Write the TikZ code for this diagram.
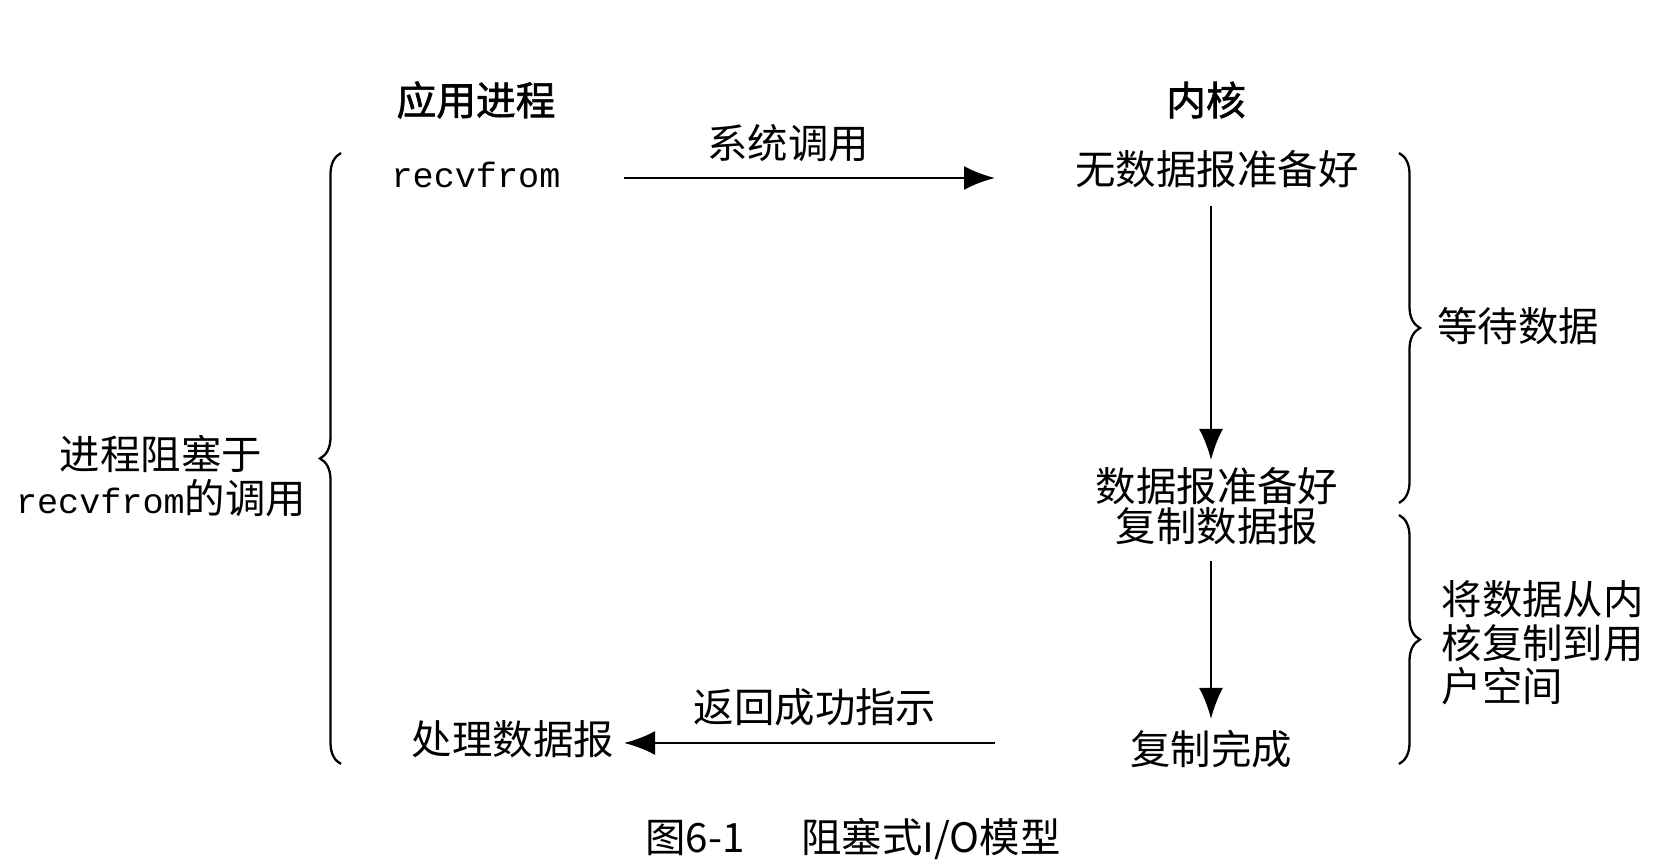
\documentclass[tikz,border=0pt]{standalone}
\usepackage{fontspec}
\setmainfont{Noto Sans CJK SC}
\setmonofont{Liberation Mono}
\newfontfamily\headfont{Noto Sans CJK SC}[FakeBold=1.5]
\usepackage{tikz}
\usetikzlibrary{positioning}
\usetikzlibrary{arrows.meta}
\usetikzlibrary{decorations.pathreplacing}

\begin{document}
\begin{tikzpicture}[
							textnode/.style={inner sep=0pt, font=\fontsize{11.5}{11.5}\selectfont},
							headnode/.style={inner sep=0pt, font=\fontsize{11.3}{12}\headfont},
							callarrow/.style={line width=0.75pt, -{Latex[length=3.1mm,width=2.4mm]}},
							bracebox/.style={line width=0.65pt, decorate, decoration={brace, amplitude=2.1mm}},
							]
							\useasboundingbox (0,0) rectangle (16.54,-8.64);
							%Nodes
							\node[headnode]       (app) 	at	(4.76,-1.00) 	{应用进程};
							\node[headnode]       (kern) 	at	(12.06,-1.00) 	{内核};
							\node[textnode, font=\fontsize{10}{12}\ttfamily] (recv) at (4.76,-1.75) {recvfrom};
							\node[textnode]       (nodata) 	at	(12.17,-1.69) 	{无数据报准备好};
							\node[textnode, align=center] (ready) at (12.17,-5.06) {数据报准备好\\复制数据报};
							\node[textnode]       (done) 	at	(12.11,-7.49) 	{复制完成};
							\node[textnode]       (proc) 	at	(5.13,-7.39) 	{处理数据报};
							\node[textnode]       (syscall) at	(7.88,-1.43) 	{系统调用};
							\node[textnode]       (ret) 	at	(8.15,-7.07) 	{返回成功指示};
							\node[textnode, align=center, font=\fontsize{11.5}{12.3}\selectfont] (block) at (1.61,-4.76) {进程阻塞于\\{\fontsize{10}{12}\ttfamily recvfrom}的调用};
							\node[textnode]       (wait) 	at	(15.18,-3.26) 	{等待数据};
							\node[textnode, align=left, anchor=west, font=\fontsize{11.5}{12.4}\selectfont] (copy) at (14.41,-6.43) {将数据从内\\核复制到用\\户空间};
							\node[textnode]       (caption) at	(8.53,-8.39) 	{图6-1\hspace{1.4em}阻塞式I/O模型};
							%Coordinates
							\coordinate (callL) at (6.24,-1.78);
							\coordinate (callR) at (9.95,-1.78);
							\coordinate (retR) at (9.95,-7.43);
							\coordinate (retL) at (6.24,-7.43);
							\coordinate (waitT) at (12.11,-2.06);
							\coordinate (waitB) at (12.11,-4.60);
							\coordinate (copyT) at (12.11,-5.61);
							\coordinate (copyB) at (12.11,-7.19);
							\coordinate (blockT) at (3.41,-1.53);
							\coordinate (blockB) at (3.41,-7.64);
							\coordinate (braceAT) at (13.99,-1.53);
							\coordinate (braceAB) at (13.99,-5.03);
							\coordinate (braceBT) at (13.99,-5.15);
							\coordinate (braceBB) at (13.99,-7.64);
							%Lines
							\draw[callarrow] (callL) --  (callR);
							\draw[callarrow] (waitT) --  (waitB);
							\draw[callarrow] (copyT) --  (copyB);
							\draw[callarrow] (retR) --  (retL);
							%Braces
							\draw[bracebox] (blockB) --  (blockT);
							\draw[bracebox] (braceAT) --  (braceAB);
							\draw[bracebox] (braceBT) --  (braceBB);
						\end{tikzpicture}
\end{document}
